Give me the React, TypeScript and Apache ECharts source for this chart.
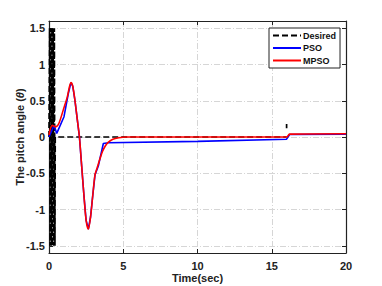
import React, { useEffect, useRef } from "react";
import * as echarts from "echarts";

const xTicks = [0, 5, 10, 15, 20];
const yTicks = [-1.5, -1, -0.5, 0, 0.5, 1, 1.5];

const desiredT = [0, 0.04, 0.08, 0.12, 0.16, 0.2, 0.24, 0.28, 0.32, 0.36, 0.4, 0.42, 16, 16, 16, 16, 16, 20];
const desiredV: (number | null)[] = [0, 1.5, -1.5, 1.5, -1.5, 1.5, -1.5, 1.5, -1.5, 1.5, -1.5, 0, 0, null, 0.12, 0.18, null, 0];

const psoT = [0, 0.34, 0.52, 1.01, 1.3, 1.48, 1.6, 1.75, 1.9, 2.05, 2.2, 2.35, 2.5, 2.65, 2.8, 2.95, 3.1, 3.32, 3.66, 4.0, 10, 16, 16.2, 20];
const psoV = [0, 0.16, 0.05, 0.28, 0.6, 0.75, 0.7, 0.5, 0.25, 0.0, -0.4, -0.8, -1.15, -1.27, -1.1, -0.8, -0.52, -0.4, -0.09, -0.08, -0.06, -0.03, 0.035, 0.04];

const mpsoT = [0, 0.22, 0.45, 0.67, 1.0, 1.23, 1.48, 1.6, 1.75, 1.9, 2.05, 2.2, 2.35, 2.5, 2.65, 2.8, 2.95, 3.1, 3.25, 3.4, 3.6, 3.8, 4.0, 4.3, 4.7, 5.2, 6, 16, 16.2, 20];
const mpsoV = [0.03, 0.16, 0.14, 0.19, 0.4, 0.55, 0.75, 0.7, 0.5, 0.25, 0.0, -0.4, -0.8, -1.15, -1.27, -1.1, -0.8, -0.52, -0.42, -0.32, -0.2, -0.12, -0.07, -0.03, -0.01, 0, 0, 0, 0.04, 0.045];

const zip = (t: number[], v: (number | null)[]) => t.map((x, i) => [x, v[i] === null ? "-" : v[i]]);

const FONT = "Liberation Sans";

export default function App() {
  const ref = useRef<HTMLDivElement>(null);
  useEffect(() => {
    if (!ref.current) return;
    const chart = echarts.init(ref.current, undefined, { renderer: "svg" });
    const gridLine = { show: true, lineStyle: { color: "#d6d6d6", width: 1, type: [6, 2, 1, 2] as any } };
    const axisLine = { show: true, onZero: false, lineStyle: { color: "#222", width: 1.2 } };
    const tick = { show: true, inside: true, length: 4, lineStyle: { color: "#222", width: 1 } };
    chart.setOption({
      animation: false,
      backgroundColor: "#fff",
      grid: { left: 49, right: 36, top: 21, bottom: 33, outerBoundsMode: "none", containLabel: false },
      xAxis: [
        {
          type: "value", min: 0, max: 20, interval: 5, position: "bottom",
          axisLine, axisTick: tick, splitLine: gridLine,
          axisLabel: { color: "#222", fontFamily: FONT, fontWeight: "bold", fontSize: 11, margin: 7 },
          name: "Time(sec)", nameLocation: "middle", nameGap: 19, nameMoveOverlap: false,
          nameTextStyle: { color: "#222", fontFamily: FONT, fontWeight: "bold", fontSize: 11 },
        },
        {
          type: "value", min: 0, max: 20, interval: 5, position: "top",
          axisLine, axisTick: tick, splitLine: { show: false }, axisLabel: { show: false },
        },
      ],
      yAxis: [
        {
          type: "value", min: -1.6, max: 1.6, position: "left",
          axisLine,
          axisTick: { ...tick, customValues: yTicks },
          splitLine: gridLine,
          axisLabel: {
            customValues: yTicks, color: "#222", fontFamily: FONT, fontWeight: "bold", fontSize: 11, margin: 4,
            formatter: (v: number) => String(v),
          },
          name: "The pitch angle ({i|θ})", nameLocation: "middle", nameGap: 24, nameMoveOverlap: false,
          nameTextStyle: {
            color: "#222", fontFamily: FONT, fontWeight: "bold", fontSize: 11,
            rich: { i: { fontFamily: FONT, fontWeight: "bold", fontStyle: "italic", fontSize: 11, color: "#222" } },
          },
        },
        {
          type: "value", min: -1.6, max: 1.6, position: "right",
          axisLine, axisTick: { ...tick, customValues: yTicks }, splitLine: { show: false },
          axisLabel: { show: false, customValues: yTicks },
        },
      ],
      legend: {
        left: 269, top: 28, orient: "vertical",
        backgroundColor: "#fff", borderColor: "#222", borderWidth: 1, borderRadius: 0,
        padding: [3, 4, 3, 3], itemWidth: 28, itemHeight: 8, itemGap: 3.5,
        itemStyle: { opacity: 0 },
        textStyle: { color: "#111", fontFamily: FONT, fontWeight: "bold", fontSize: 9, padding: [0, 0, 0, -3] },
        data: ["Desired", "PSO", "MPSO"],
      },
      series: [
        {
          name: "Desired", type: "line", data: zip(desiredT, desiredV), showSymbol: false, symbol: "none",
          connectNulls: false,
          lineStyle: { color: "#000", width: 1.7, type: [6, 3] as any }, itemStyle: { color: "#000" },
        },
        {
          name: "PSO", type: "line", data: zip(psoT, psoV), showSymbol: false, symbol: "none",
          lineStyle: { color: "#0000ff", width: 1.6 }, itemStyle: { color: "#0000ff" },
        },
        {
          name: "MPSO", type: "line", data: zip(mpsoT, mpsoV), showSymbol: false, symbol: "none", smooth: 0.3,
          lineStyle: { color: "#ff0000", width: 1.6 }, itemStyle: { color: "#ff0000" },
        },
      ],
    });
    return () => chart.dispose();
  }, []);
  return <div ref={ref} style={{ width: 382, height: 286, position: "absolute", left: 0, top: 0 }} />;
}
